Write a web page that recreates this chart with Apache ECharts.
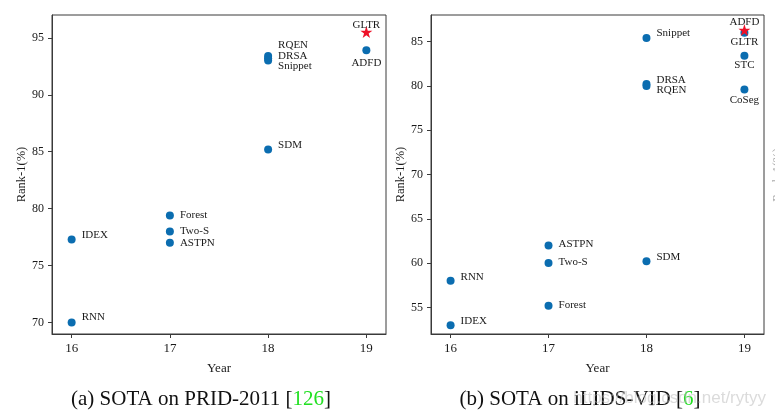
<!DOCTYPE html>
<html><head><meta charset="utf-8">
<script src="https://cdn.jsdelivr.net/npm/echarts@6/dist/echarts.min.js"></script>
<style>html,body{margin:0;padding:0;background:#fff}#c{width:775px;height:416px}</style>
</head><body><div id="c"></div>
<script>
// ---- data: (a) PRID-2011 ----
const prNames = ['RNN','IDEX','Forest','Two-S','ASTPN','SDM','RQEN','DRSA','Snippet','ADFD','GLTR'];
const prYears = [16,16,17,17,17,18,18,18,18,19,19];
const prRank  = [70.0,77.3,79.4,78.0,77.0,85.2,93.4,93.2,93.0,93.9,95.5];
const prBest  = 'GLTR';
const prYTicks = [70,75,80,85,90,95];
// ---- data: (b) iLIDS-VID ----
const ilNames = ['IDEX','RNN','Forest','Two-S','ASTPN','SDM','Snippet','DRSA','RQEN','ADFD','GLTR','STC','CoSeg'];
const ilYears = [16,16,17,17,17,18,18,18,18,19,19,19,19];
const ilRank  = [53.0,58.0,55.2,60.0,62.0,60.2,85.4,80.2,80.0,86.3,86.0,83.4,79.6];
const ilBest  = 'ADFD';
const ilYTicks = [55,60,65,70,75,80,85];
const xTicks = [16,17,18,19];
const captionA = ['(a) SOTA on PRID-2011 [', '126', ']'];
const captionB = ['(b) SOTA on iLIDS-VID [', '6', ']'];

// ---- label placement (style only) ----
const prLab = {RNN:['r',-5],IDEX:['r',-4.6],Forest:['r',0],'Two-S':['r',0],ASTPN:['r',0],SDM:['r',-4.7],
  RQEN:['r',-11.3],DRSA:['r',-2.6],Snippet:['r',6],ADFD:['c',12.7],GLTR:['c',-7]};
const ilLab = {IDEX:['r',-4],RNN:['r',-4],Forest:['r',-1],'Two-S':['r',-1],ASTPN:['r',-1],SDM:['r',-4],
  Snippet:['r',-5],DRSA:['r',-4.2],RQEN:['r',4],ADFD:['c',-7.5],GLTR:['c',9],STC:['c',9.5],CoSeg:['c',10.5]};

const SERIF = '"Liberation Serif","Times New Roman",serif';
const BLUE = '#0b6db0', RED = '#ee1128';
const STAR = 'path://M50,0 L61.8,35.4 L100,35.4 L69.1,57.3 L80.9,92.7 L50,70.8 L19.1,92.7 L30.9,57.3 L0,35.4 L38.2,35.4 Z';

function pts(names, years, rank, best, lab, wantBest) {
  const out = [];
  names.forEach((n, i) => {
    if ((n === best) !== wantBest) return;
    const p = lab[n];
    out.push({
      name: n, value: [years[i], rank[i]],
      label: {
        show: true, position: 'inside', formatter: n,
        align: p[0] === 'r' ? 'left' : 'center', verticalAlign: 'middle',
        offset: [p[0] === 'r' ? 10 : 0, p[1]],
        fontFamily: SERIF, fontSize: 11, color: '#1a1a1a'
      }
    });
  });
  return out;
}

function axisX(gi) {
  return {
    type: 'value', gridIndex: gi, min: 15.8, max: 19.2,
    name: 'Year', nameLocation: 'middle', nameGap: 28,
    nameTextStyle: {fontFamily: SERIF, fontSize: 13, color: '#1a1a1a'},
    axisLine: {show: true, lineStyle: {color: '#3a3a3a', width: 1}},
    axisTick: {show: true, length: 4, customValues: xTicks, lineStyle: {color: '#3a3a3a'}},
    axisLabel: {customValues: xTicks, margin: 8, fontFamily: SERIF, fontSize: 13, color: '#1a1a1a'},
    splitLine: {show: false}
  };
}
function axisY(gi, min, max, ticks) {
  return {
    type: 'value', gridIndex: gi, min: min, max: max,
    name: 'Rank-1(%)', nameLocation: 'middle', nameGap: 23, nameRotate: 90,
    nameTextStyle: {fontFamily: SERIF, fontSize: 12.5, color: '#1a1a1a'},
    axisLine: {show: true, lineStyle: {color: '#3a3a3a', width: 1}},
    axisTick: {show: true, length: 4, customValues: ticks, lineStyle: {color: '#3a3a3a'}},
    axisLabel: {customValues: ticks, margin: 8, fontFamily: SERIF, fontSize: 12, color: '#1a1a1a'},
    splitLine: {show: false}
  };
}

const chart = echarts.init(document.getElementById('c'), null, {renderer: 'canvas'});
chart.setOption({
  backgroundColor: '#fff',
  animation: false,
  grid: [
    {left: 52, top: 15, width: 334, height: 319, show: true, borderColor: '#3a3a3a', borderWidth: 1},
    {left: 431, top: 15, width: 333, height: 319, show: true, borderColor: '#3a3a3a', borderWidth: 1}
  ],
  xAxis: [axisX(0), axisX(1)],
  yAxis: [axisY(0, 69, 97, prYTicks), axisY(1, 52, 88, ilYTicks)],
  series: [
    {type: 'scatter', xAxisIndex: 0, yAxisIndex: 0, symbol: 'circle', symbolSize: 8,
     itemStyle: {color: BLUE, opacity: 1}, data: pts(prNames, prYears, prRank, prBest, prLab, false)},
    {type: 'scatter', xAxisIndex: 0, yAxisIndex: 0, symbol: STAR, symbolSize: 12,
     itemStyle: {color: RED, opacity: 1}, data: pts(prNames, prYears, prRank, prBest, prLab, true)},
    {type: 'scatter', xAxisIndex: 1, yAxisIndex: 1, symbol: 'circle', symbolSize: 8,
     itemStyle: {color: BLUE, opacity: 1}, data: pts(ilNames, ilYears, ilRank, ilBest, ilLab, false)},
    {type: 'scatter', xAxisIndex: 1, yAxisIndex: 1, symbol: STAR, symbolSize: 12, z: 5,
     itemStyle: {color: RED, opacity: 1}, data: pts(ilNames, ilYears, ilRank, ilBest, ilLab, true)}
  ],
  graphic: [
    {type: 'text', x: 201, y: 399, style: {
      text: captionA[0] + '{g|' + captionA[1] + '}' + captionA[2],
      font: '21px ' + SERIF, fill: '#111', align: 'center', verticalAlign: 'middle',
      rich: {g: {fill: '#22e022', font: '21px ' + SERIF}}}},
    {type: 'text', x: 580, y: 399, style: {
      text: captionB[0] + '{g|' + captionB[1] + '}' + captionB[2],
      font: '21px ' + SERIF, fill: '#111', align: 'center', verticalAlign: 'middle',
      rich: {g: {fill: '#22e022', font: '21px ' + SERIF}}}},
    {type: 'text', x: 766, y: 398, z: 10, style: {
      text: 'https://blog.csdn.net/rytyy', font: '17px "Liberation Sans",sans-serif',
      fill: 'rgba(190,190,190,0.55)', align: 'right', verticalAlign: 'middle'}},
    {type: 'text', x: 778, y: 175, rotation: Math.PI / 2, style: {
      text: 'Rank-1(%)', font: '12px ' + SERIF, fill: '#aaa', align: 'center', verticalAlign: 'middle'}}
  ]
});
</script></body></html>
